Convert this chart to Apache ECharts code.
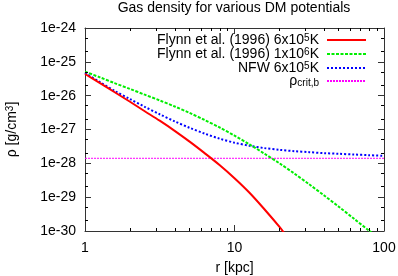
<!DOCTYPE html>
<html>
<head>
<meta charset="utf-8">
<script src="https://cdn.jsdelivr.net/npm/echarts@6/dist/echarts.min.js"></script>
<style>html,body{margin:0;padding:0;background:#fff}#c{width:398px;height:276px}</style>
</head>
<body>
<div id="c"></div>
<script>
// ---- data ----
const rRed = [1, 1.26, 1.58, 2, 2.51, 3.16, 3.98, 5.01, 6.31, 7.94, 10, 12.6, 15.8, 20, 21.9];
const rhoRed = [4.37e-26, 2.34e-26, 1.26e-26, 6.61e-27, 3.47e-27, 1.82e-27, 9.12e-28, 4.37e-28, 2.0e-28, 8.91e-29, 3.63e-29, 1.35e-29, 4.47e-30, 1.32e-30, 7.76e-31];

const rGreen = [1, 1.26, 1.58, 2, 2.51, 3.16, 3.98, 5.01, 6.31, 7.94, 10, 12.6, 15.8, 20, 25.1, 31.6, 39.8, 50.1, 63.1, 79.4, 89.1];
const rhoGreen = [5.13e-26, 3.47e-26, 2.34e-26, 1.58e-26, 1.07e-26, 7.24e-27, 4.79e-27, 3.09e-27, 1.91e-27, 1.15e-27, 6.61e-28, 3.63e-28, 1.95e-28, 1.0e-28, 5.01e-29, 2.40e-29, 1.12e-29, 5.13e-30, 2.29e-30, 1.02e-30, 6.9e-31];

const rBlue = [1, 1.26, 1.58, 2, 2.51, 3.16, 3.98, 5.01, 6.31, 7.94, 10, 12.6, 15.8, 20, 25.1, 31.6, 39.8, 50.1, 63.1, 79.4, 100];
const rhoBlue = [4.68e-26, 2.51e-26, 1.38e-26, 7.94e-27, 4.68e-27, 2.82e-27, 1.74e-27, 1.12e-27, 7.59e-28, 5.37e-28, 4.07e-28, 3.31e-28, 2.82e-28, 2.51e-28, 2.29e-28, 2.14e-28, 2.0e-28, 1.91e-28, 1.82e-28, 1.74e-28, 1.66e-28];

const rCrit = [1, 100];
const rhoCrit = [1.41e-28, 1.41e-28];

const xMinorTicks = [2, 3, 4, 5, 6, 7, 8, 9, 20, 30, 40, 50, 60, 70, 80, 90];
const yMinorTicks = [2e-30, 5e-30, 2e-29, 5e-29, 2e-28, 5e-28, 2e-27, 5e-27, 2e-26, 5e-26, 2e-25, 5e-25];

const names = ['Flynn et al. (1996) 6x10{sup|5}K', 'Flynn et al. (1996) 1x10{sup|6}K', 'NFW 6x10{sup|5}K', 'ρ{sub|crit,b}'];

const X_MIN = 1, X_MAX = 100, Y_MIN = 1e-30, Y_MAX = 1e-24;
const FONT = 'Liberation Sans';
const AX = '#333';

const lg = v => Math.log10(v);
const LY_MIN = Math.round(lg(Y_MIN)), LY_MAX = Math.round(lg(Y_MAX));
const zip = (a, b) => a.map((v, i) => [v, lg(b[i])]);
const px = v => Math.round(v - 0.5) + 0.5;

const richStyles = {
  sup: { fontSize: 10, fontFamily: FONT, color: '#000', verticalAlign: 'top', lineHeight: 10 },
  sub: { fontSize: 10, fontFamily: FONT, color: '#000', verticalAlign: 'bottom', lineHeight: 10 },
};

function legendFor(idx, top) {
  return {
    data: [names[idx]],
    right: 31, top: top,
    orient: 'vertical', align: 'right',
    itemWidth: 39, itemHeight: 8, itemGap: 0, padding: 0,
    itemStyle: { opacity: 0 },
    textStyle: { fontSize: 14, fontFamily: FONT, color: '#000', padding: [0, 3, 0, 0], rich: richStyles },
    selectedMode: false
  };
}

const chart = echarts.init(document.getElementById('c'), null, { renderer: 'canvas' });

const tickStyle = { show: true, inside: true, length: 6, lineStyle: { color: AX } };
const lineStyleAx = { show: true, lineStyle: { color: AX, width: 1 } };

const option = {
  animation: false,
  backgroundColor: '#fff',
  textStyle: { fontFamily: FONT },
  title: {
    text: 'Gas density for various DM potentials',
    left: 234, top: 1, padding: 0, textAlign: 'center',
    textStyle: { fontSize: 14, fontWeight: 'normal', fontFamily: FONT, color: '#000' }
  },
  legend: [legendFor(0, 33), legendFor(1, 47), legendFor(2, 61), legendFor(3, 74)],
  grid: { left: 85, right: 14, top: 28, bottom: 45, containLabel: false, outerBoundsMode: 'none' },
  xAxis: [
    {
      type: 'log', logBase: 10, min: X_MIN, max: X_MAX,
      position: 'bottom', axisLine: lineStyleAx, axisTick: tickStyle, splitLine: { show: false },
      name: 'r [kpc]', nameLocation: 'middle', nameGap: 30,
      nameTextStyle: { fontSize: 14, fontFamily: FONT, color: '#000' },
      axisLabel: { show: true, margin: 10, fontSize: 14, fontFamily: FONT, color: '#000', formatter: v => String(Math.round(v)) }
    },
    {
      type: 'log', logBase: 10, min: X_MIN, max: X_MAX,
      position: 'top', axisLine: lineStyleAx, axisTick: tickStyle, splitLine: { show: false },
      axisLabel: { show: false }
    }
  ],
  yAxis: [
    {
      type: 'value', min: LY_MIN, max: LY_MAX, interval: 1,
      position: 'left', axisLine: lineStyleAx, axisTick: tickStyle, splitLine: { show: false },
      name: 'ρ [g/cm{sup|3}]', nameLocation: 'middle', nameGap: 66, nameRotate: 90,
      nameTextStyle: { fontSize: 14, fontFamily: FONT, color: '#000', rich: { sup: { fontSize: 10, fontFamily: FONT, color: '#000', verticalAlign: 'top', lineHeight: 10 } } },
      axisLabel: { show: true, margin: 9, fontSize: 14, fontFamily: FONT, color: '#000', formatter: v => '1e' + Math.round(v) }
    },
    {
      type: 'value', min: LY_MIN, max: LY_MAX, interval: 1,
      position: 'right', axisLine: lineStyleAx, axisTick: tickStyle, splitLine: { show: false },
      axisLabel: { show: false }
    }
  ],
  series: [
    {
      name: names[0], type: 'line', data: zip(rRed, rhoRed), symbol: 'none', smooth: 0.3,
      lineStyle: { color: '#ff0000', width: 2, type: 'solid' }, itemStyle: { color: '#ff0000' }, z: 5
    },
    {
      name: names[1], type: 'line', data: zip(rGreen, rhoGreen), symbol: 'none', smooth: 0.3,
      lineStyle: { color: '#00ee00', width: 2, type: [3, 1.5] }, itemStyle: { color: '#00ee00' }, z: 4
    },
    {
      name: names[2], type: 'line', data: zip(rBlue, rhoBlue), symbol: 'none', smooth: 0.3,
      lineStyle: { color: '#0000ff', width: 2, type: [2, 2] }, itemStyle: { color: '#0000ff' }, z: 3
    },
    {
      name: names[3], type: 'line', data: zip(rCrit, rhoCrit), symbol: 'none',
      lineStyle: { color: '#ff00ff', width: 1, type: [2, 1] }, itemStyle: { color: '#ff00ff' }, z: 2
    },
    {
      type: 'custom', coordinateSystem: 'cartesian2d', silent: true, z: 10, clip: false,
      data: xMinorTicks.map(v => [v, -27]),
      renderItem: function (params, api) {
        const v = api.value(0);
        const b = api.coord([v, LY_MIN]);
        const t = api.coord([v, LY_MAX]);
        const x = px(b[0]);
        return { type: 'group', children: [
          { type: 'line', shape: { x1: x, y1: b[1], x2: x, y2: b[1] - 3 }, style: { stroke: '#000', lineWidth: 1 } },
          { type: 'line', shape: { x1: x, y1: t[1], x2: x, y2: t[1] + 3 }, style: { stroke: '#000', lineWidth: 1 } }
        ] };
      }
    },
    {
      type: 'custom', coordinateSystem: 'cartesian2d', silent: true, z: 10, clip: false,
      data: yMinorTicks.map(v => [10, lg(v)]),
      renderItem: function (params, api) {
        const v = api.value(1);
        const l = api.coord([X_MIN, v]);
        const r = api.coord([X_MAX, v]);
        const y = px(l[1]);
        return { type: 'group', children: [
          { type: 'line', shape: { x1: l[0], y1: y, x2: l[0] + 3, y2: y }, style: { stroke: '#000', lineWidth: 1 } },
          { type: 'line', shape: { x1: r[0], y1: y, x2: r[0] - 3, y2: y }, style: { stroke: '#000', lineWidth: 1 } }
        ] };
      }
    }
  ]
};
chart.setOption(option);
</script>
</body>
</html>
